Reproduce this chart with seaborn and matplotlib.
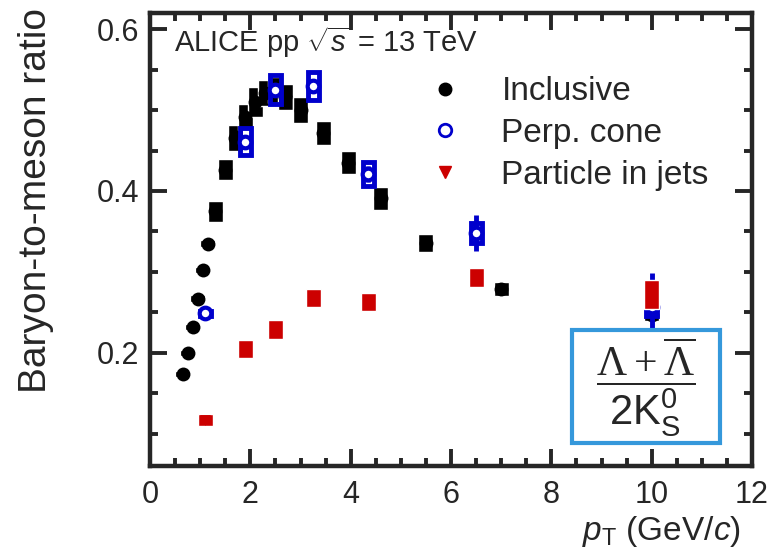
import matplotlib
matplotlib.use("Agg")
import numpy as np
import matplotlib.pyplot as plt
from matplotlib.lines import Line2D
from matplotlib.patches import Rectangle
from matplotlib.ticker import MultipleLocator
import seaborn as sns

# === Data ===
# inclusive Lambda/K0S
incl_pt = [0.65, 0.75, 0.85, 0.95, 1.05, 1.15, 1.3, 1.5, 1.7, 1.9, 2.1, 2.3,
           2.5, 2.7, 3.0, 3.45, 3.95, 4.6, 5.5, 7.0, 10.0]
incl_ratio = [0.174, 0.200, 0.232, 0.267, 0.302, 0.335, 0.375, 0.426, 0.465,
              0.491, 0.510, 0.521, 0.525, 0.516, 0.500, 0.472, 0.435, 0.391,
              0.336, 0.279, 0.247]
incl_sys = [0.004, 0.004, 0.004, 0.004, 0.004, 0.004, 0.013, 0.013, 0.016,
            0.016, 0.018, 0.016, 0.016, 0.016, 0.016, 0.015, 0.014, 0.014,
            0.011, 0.009, 0.008]

# perpendicular cone
perp_pt = [1.1, 1.9, 2.5, 3.25, 4.35, 6.5, 10.0]
perp_ratio = [0.249, 0.461, 0.525, 0.530, 0.421, 0.348, 0.256]
perp_sys = [0.003, 0.017, 0.018, 0.017, 0.015, 0.012, 0.010]
perp_stat = [0.004, 0.008, 0.008, 0.008, 0.010, 0.022, 0.042]

# particles in jets
jet_pt = [1.1, 1.9, 2.5, 3.25, 4.35, 6.5, 10.0]
jet_ratio = [0.117, 0.205, 0.229, 0.268, 0.263, 0.293, 0.272]
jet_sys = [0.007, 0.011, 0.012, 0.011, 0.011, 0.012, 0.018]

legend_labels = ["Inclusive", "Perp. cone", "Particle in jets"]

# === Style ===
sns.set_style("ticks")
plt.rcParams["font.family"] = ["Liberation Sans", "DejaVu Sans"]
plt.rcParams["mathtext.fontset"] = "custom"
plt.rcParams["mathtext.rm"] = "Liberation Serif"
plt.rcParams["mathtext.sf"] = "Liberation Sans"
plt.rcParams["mathtext.it"] = "Liberation Sans:italic"

black = "#000000"
blue = "#0000cc"
red = "#cc0000"

fig = plt.figure(figsize=(7.69, 5.53), dpi=100)
ax = fig.add_axes([0.1951, 0.1573, 0.7828, 0.8192])

# === Inclusive ===
incl_y = np.array(incl_ratio)
incl_s = np.array(incl_sys)
ax.bar(incl_pt, 2 * incl_s, bottom=incl_y - incl_s, width=0.3,
       color=black, zorder=2)
sns.scatterplot(x=incl_pt, y=incl_ratio, color=black, marker="o", s=100,
                edgecolor=black, linewidth=0, ax=ax, zorder=3)

# === Perp. cone ===
perp_y = np.array(perp_ratio)
perp_s = np.array(perp_sys)
ax.bar(perp_pt, 2 * perp_s, bottom=perp_y - perp_s, width=0.22, fill=False,
       edgecolor=blue, linewidth=3.5, zorder=4)
ax.errorbar(perp_pt, perp_ratio, yerr=perp_stat, fmt="none", ecolor=blue,
            elinewidth=3.5, capsize=0, zorder=4)
sns.scatterplot(x=perp_pt, y=perp_ratio, color="white", marker="o", s=70,
                edgecolor=blue, linewidth=3, ax=ax, zorder=5)

# === Particle in jets ===
jet_y = np.array(jet_ratio)
jet_s = np.array(jet_sys)
ax.bar(jet_pt, 2 * jet_s, bottom=jet_y - jet_s, width=0.3,
       color=red, zorder=6)
sns.scatterplot(x=jet_pt, y=jet_ratio, color=red, marker="v", s=60,
                edgecolor=red, linewidth=0, ax=ax, zorder=7)

# === Axes ===
ax.set_xlim(0, 12)
ax.set_ylim(0.06, 0.62)
ax.xaxis.set_major_locator(MultipleLocator(2))
ax.xaxis.set_minor_locator(MultipleLocator(0.5))
ax.yaxis.set_major_locator(MultipleLocator(0.2))
ax.yaxis.set_minor_locator(MultipleLocator(0.05))
ax.tick_params(which="both", direction="in", top=True, right=True,
               width=2.8, labelsize=22)
ax.tick_params(axis="x", pad=10)
ax.tick_params(axis="y", pad=8)
ax.tick_params(which="major", length=12)
ax.tick_params(which="minor", length=6)
for sp in ax.spines.values():
    sp.set_linewidth(3.2)

ax.set_xlabel(r"$p_{\mathsf{T}}$ (GeV/$c$)", fontsize=24, loc="right")
ax.xaxis.set_label_coords(0.982, -0.105)
ax.set_ylabel("Baryon-to-meson ratio", fontsize=28, loc="top")
ax.yaxis.set_label_coords(-0.16, 1.012)

ax.text(0.04, 0.935, r"ALICE pp $\sqrt{s}$ = 13 TeV", transform=ax.transAxes,
        fontsize=21, ha="left", va="center")

handles = [
    Line2D([], [], ls="", marker="o", color=black, markersize=9),
    Line2D([], [], ls="", marker="o", color=blue, markerfacecolor="white",
           markeredgewidth=2, markersize=9),
    Line2D([], [], ls="", marker="v", color=red, markersize=9),
]
ax.legend(handles, legend_labels, loc="upper left",
          bbox_to_anchor=(0.462, 0.86), frameon=False, fontsize=24,
          handlelength=1, handletextpad=1.2, labelspacing=0.32,
          borderpad=0, borderaxespad=0)

# ratio definition box
box_x0 = (572 - 150) / 602
box_y0 = (466 - 443) / 453
box = Rectangle((box_x0, box_y0), 148 / 602, 113 / 453, transform=ax.transAxes,
                facecolor="white", edgecolor="#3598db", linewidth=3, zorder=8)
ax.add_patch(box)
ax.text(box_x0 + 74 / 602, box_y0 + 56 / 453,
        r"$\dfrac{\Lambda + \overline{\Lambda}}{\mathsf{2K^{0}_{S}}}$",
        transform=ax.transAxes, fontsize=30, ha="center", va="center",
        zorder=9)

fig.savefig("out.png", dpi=100)
